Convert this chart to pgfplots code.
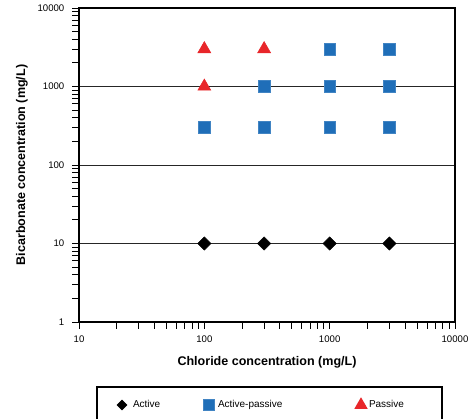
\documentclass[border=0pt]{standalone}
\usepackage{pgfplots}
\pgfplotsset{compat=1.18}
\usepackage{fontspec}
\setmainfont{Liberation Sans}
\definecolor{apblue}{HTML}{1F6EB8}
\definecolor{pred}{HTML}{E8262A}
\pgfplotsset{
  legA/.style={legend image code/.code={\path[draw=none, fill=none, use as bounding box] (-18.75pt,-13.5pt) rectangle (8.25pt,13.5pt);
    \draw[##1, mark size=2.4pt] plot coordinates {(0pt,0pt)};}},
  legB/.style={legend image code/.code={\path[draw=none, fill=none, use as bounding box] (-6.75pt,-13.5pt) rectangle (6.75pt,13.5pt);
    \draw[##1, mark size=4.2pt] plot coordinates {(0pt,0pt)};}},
  legC/.style={legend image code/.code={\path[draw=none, fill=none, use as bounding box] (-6pt,-13.5pt) rectangle (6pt,13.5pt);
    \draw[##1, mark size=5pt] plot coordinates {(0pt,0pt)};}},
}
\begin{document}
\begin{tikzpicture}
\begin{axis}[
  scale only axis,
  width=282pt, height=235.5pt,
  xmode=log, ymode=log,
  xmin=10, xmax=10000, ymin=1, ymax=10000,
  xtick={10,100,1000,10000}, ytick={1,10,100,1000,10000},
  xticklabels={10,100,1000,10000}, yticklabels={1,10,100,1000,10000},
  minor xtick={20,30,40,50,60,70,80,90,200,300,400,500,600,700,800,900,2000,3000,4000,5000,6000,7000,8000,9000},
  minor ytick={2,3,4,5,6,7,8,9,20,30,40,50,60,70,80,90,200,300,400,500,600,700,800,900,2000,3000,4000,5000,6000,7000,8000,9000},
  tick label style={font=\fontsize{7.2}{8}\selectfont},
  xticklabel style={yshift=-2pt},
  yticklabel style={xshift=-2.5pt},
  tick align=outside,
  major tick length=5pt, minor tick length=5pt,
  tick style={black, line width=0.7pt},
  axis line style={line width=1pt},
  ymajorgrids, grid style={black!85, line width=0.7pt},
  xtick pos=bottom, ytick pos=left,
  xlabel={\bfseries Chloride concentration (mg/L)},
  ylabel={\bfseries Bicarbonate concentration (mg/L)},
  label style={font=\fontsize{9.4}{11}\selectfont},
  xlabel style={at={(axis description cs:0.5,-0.127)}, anchor=center},
  ylabel style={at={(axis description cs:-0.152,0.5)}, anchor=center},
  legend columns=3,
  legend cell align=left,
  legend style={at={(axis description cs:0.0479,-0.207)}, anchor=north west,
    draw=black, line width=0.8pt, inner sep=0pt, outer sep=0pt,
    font=\fontsize{7.5}{9}\selectfont,
    nodes={inner sep=0pt, draw=none}, column sep=0pt},
]
\addplot[only marks, mark=square*, mark size=3.5pt, black, mark options={rotate=45}, legA] coordinates {
 (100,10) (300,10) (1000,10) (3000,10)};
\addlegendentry{\makebox[50.25pt][l]{Active}}
\addplot[only marks, mark=square*, mark size=4.4pt, apblue, mark options={draw=apblue!85}, legB] coordinates {
 (100,300) (300,300) (300,1000) (1000,300) (1000,1000) (1000,3000) (3000,300) (3000,1000) (3000,3000)};
\addlegendentry{\makebox[101.25pt][l]{Active-passive}}
\addplot[only marks, mark=triangle*, mark size=5.6pt, pred, legC] coordinates {
 (100,1000) (100,3000) (300,3000)};
\addlegendentry{\makebox[54.75pt][l]{Passive}}
\end{axis}
\pgfresetboundingbox
\path[use as bounding box] ([xshift=-59.25pt,yshift=-72.75pt]current axis.south west) rectangle ([xshift=13.5pt,yshift=6pt]current axis.north east);
\end{tikzpicture}
\end{document}
